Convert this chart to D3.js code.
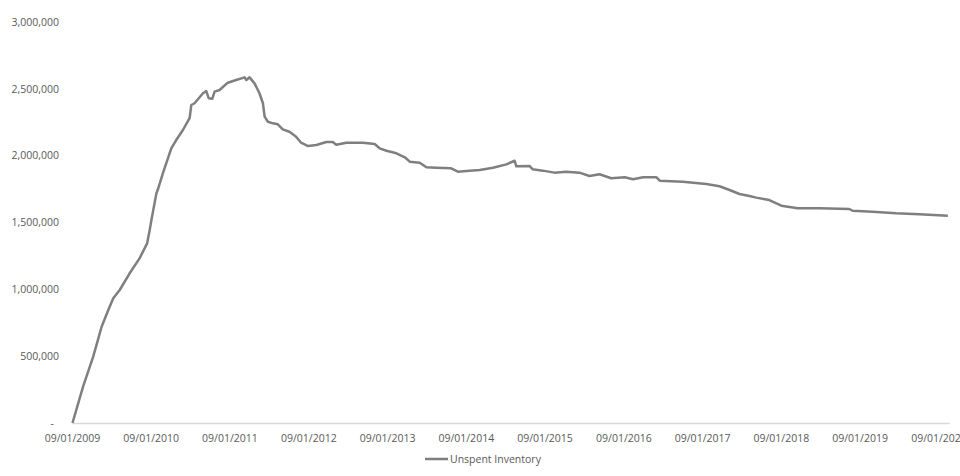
<!DOCTYPE html>
<html>
<head>
<meta charset="utf-8">
<script src="https://cdn.jsdelivr.net/npm/d3@7"></script>
<style>
	body { margin: 0; background: #fff; }
	svg text { font-family: "Open Sans", sans-serif; font-size: 10.5px; fill: #595959; }
</style>
</head>
<body>
<svg id="vis" width="960" height="476"></svg>
<script>
	// Traced points of the unspent inventory line (date, units)
	const dates = ["2009-09-01", "2009-10-20", "2009-12-06", "2010-01-14", "2010-02-14", "2010-03-09", "2010-04-08", "2010-05-24",
		"2010-07-09", "2010-08-13", "2010-08-25", "2010-09-02", "2010-09-25", "2010-10-01", "2010-10-25", "2010-12-03",
		"2010-12-26", "2011-01-26", "2011-02-26", "2011-03-06", "2011-03-21", "2011-04-29", "2011-05-14", "2011-05-26",
		"2011-06-11", "2011-06-22", "2011-07-15", "2011-08-22", "2011-09-30", "2011-11-08", "2011-11-16", "2011-12-01",
		"2011-12-24", "2012-01-16", "2012-02-01", "2012-02-09", "2012-02-24", "2012-03-18", "2012-04-10", "2012-05-03",
		"2012-06-03", "2012-07-04", "2012-07-27", "2012-08-28", "2012-10-06", "2012-11-21", "2012-12-21", "2013-01-06",
		"2013-02-22", "2013-05-10", "2013-07-03", "2013-07-26", "2013-08-27", "2013-10-12", "2013-11-20", "2013-12-13",
		"2014-01-28", "2014-02-28", "2014-04-15", "2014-06-23", "2014-07-24", "2014-09-02", "2014-11-02", "2015-01-03",
		"2015-03-06", "2015-04-13", "2015-04-21", "2015-06-21", "2015-07-06", "2015-08-22", "2015-10-15", "2015-12-08",
		"2016-02-08", "2016-03-25", "2016-05-11", "2016-07-04", "2016-09-05", "2016-10-13", "2016-11-29", "2017-01-30",
		"2017-02-14", "2017-06-01", "2017-09-18", "2017-11-18", "2018-01-04", "2018-02-19", "2018-04-06", "2018-05-07",
		"2018-07-07", "2018-09-01", "2018-11-16", "2019-02-24", "2019-07-13", "2019-07-28", "2019-10-29", "2020-02-15",
		"2020-06-02", "2020-10-12"];

	const inventory = [0, 272000, 496000, 720000, 845000, 933000, 995000, 1120000,
		1232000, 1344000, 1444000, 1519000, 1718000, 1743000, 1868000, 2055000,
		2117000, 2192000, 2280000, 2379000, 2392000, 2467000, 2484000, 2429000,
		2425000, 2479000, 2491000, 2546000, 2566000, 2586000, 2566000, 2586000,
		2541000, 2467000, 2392000, 2292000, 2254000, 2242000, 2235000, 2197000,
		2179000, 2142000, 2097000, 2072000, 2080000, 2102000, 2102000, 2082000,
		2097000, 2097000, 2087000, 2055000, 2037000, 2018000, 1988000, 1955000,
		1947000, 1913000, 1910000, 1905000, 1880000, 1885000, 1893000, 1910000,
		1935000, 1962000, 1920000, 1923000, 1898000, 1888000, 1873000, 1880000,
		1873000, 1848000, 1861000, 1831000, 1838000, 1823000, 1838000, 1838000,
		1813000, 1805000, 1788000, 1771000, 1743000, 1713000, 1698000, 1686000,
		1668000, 1626000, 1606000, 1606000, 1601000, 1588000, 1581000, 1569000,
		1561000, 1551000];

	const xTicks = ["09/01/2009", "09/01/2010", "09/01/2011", "09/01/2012", "09/01/2013", "09/01/2014",
		"09/01/2015", "09/01/2016", "09/01/2017", "09/01/2018", "09/01/2019", "09/01/2020"];
	const yTicks = [0, 500000, 1000000, 1500000, 2000000, 2500000, 3000000];
	const seriesName = "Unspent Inventory";

	const parseDate = d3.utcParse("%Y-%m-%d");
	const parseTick = d3.utcParse("%m/%d/%Y");
	const data = dates.map((d, i) => ({date: parseDate(d), value: inventory[i]}));

	const svg = d3.select("svg#vis");

	const x = d3.scaleUtc()
		.domain([parseTick(xTicks[0]), parseTick(xTicks[xTicks.length - 1])])
		.range([72.5, 939]);

	const y = d3.scaleLinear()
		.domain([0, 3000000])
		.range([423, 22]);

	// axis baseline
	svg.append("line")
		.attr("x1", x(data[0].date))
		.attr("x2", x(data[data.length - 1].date) + 2)
		.attr("y1", y(0) + 0.5)
		.attr("y2", y(0) + 0.5)
		.attr("stroke", "#d9d9d9")
		.attr("stroke-width", 1.5);

	// y labels (accounting style, zero shown as a dash)
	const fmt = d3.format(",");
	svg.append("g").selectAll("text")
		.data(yTicks)
		.join("text")
		.attr("x", d => d === 0 ? 54 : 59)
		.attr("y", d => y(d))
		.attr("dy", "0.35em")
		.attr("text-anchor", "end")
		.text(d => d === 0 ? "-" : fmt(d));

	// x labels
	svg.append("g").selectAll("text")
		.data(xTicks)
		.join("text")
		.attr("x", d => x(parseTick(d)))
		.attr("y", 438)
		.attr("dy", "0.35em")
		.attr("text-anchor", "middle")
		.text(d => d);

	// the line
	const line = d3.line()
		.x(d => x(d.date))
		.y(d => y(d.value));

	svg.append("path")
		.datum(data)
		.attr("fill", "none")
		.attr("stroke", "#7f7f7f")
		.attr("stroke-width", 2.5)
		.attr("stroke-linejoin", "round")
		.attr("d", line);

	// legend
	const legend = svg.append("g").attr("transform", "translate(425,459)");
	legend.append("line")
		.attr("x1", 0).attr("x2", 23)
		.attr("stroke", "#7f7f7f")
		.attr("stroke-width", 2.5);
	legend.append("text")
		.attr("x", 25)
		.attr("dy", "0.35em")
		.text(seriesName);
</script>
</body>
</html>
